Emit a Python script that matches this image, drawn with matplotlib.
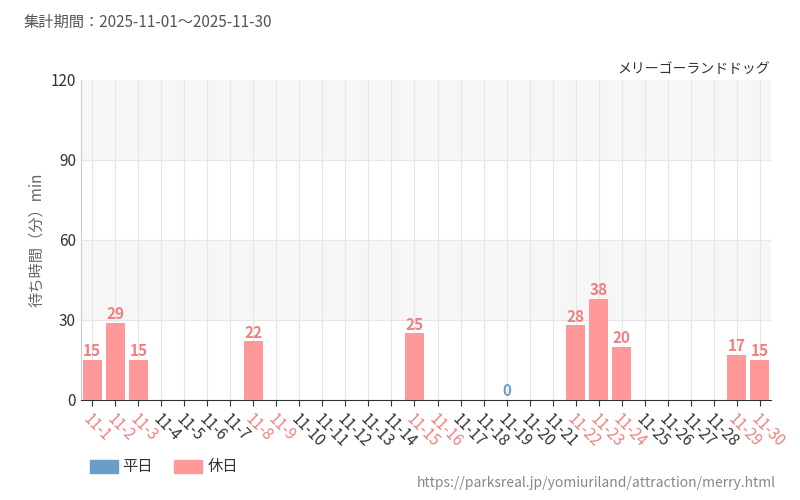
import numpy as np
import matplotlib.pyplot as plt

plt.rcParams['font.family'] = ['Noto Sans CJK JP', 'DejaVu Sans']

# === DATA ===
days = [f"11-{d}" for d in range(1, 31)]
holidays = [1, 2, 3, 8, 9, 15, 16, 22, 23, 24, 29, 30]
waits = {1: 15, 2: 29, 3: 15, 8: 22, 15: 25, 19: 0, 22: 28, 23: 38, 24: 20, 29: 17, 30: 15}

WEEKDAY = '#6a9ec6'
HOLIDAY = '#ff9999'
HOLIDAY_TXT = '#f07f7f'

fig = plt.figure(figsize=(8, 5), dpi=100)
ax = fig.add_axes([0.101, 0.2, 0.863, 0.64])

x = np.arange(len(days))
for d, v in waits.items():
    hol = d in holidays
    c = HOLIDAY if hol else WEEKDAY
    ax.bar(d - 1, v, width=0.82, color=c, zorder=3)
    ax.text(d - 1, v + 0.3, str(v), ha='center', va='bottom', fontsize=11,
            fontweight='bold', fontstretch='condensed',
            color=HOLIDAY_TXT if hol else WEEKDAY, zorder=4)

# background bands
ax.axhspan(90, 120, color='#f6f6f6', zorder=0)
ax.axhspan(30, 60, color='#f6f6f6', zorder=0)
for xi in x:
    ax.axvline(xi, color='#e6e6e6', lw=0.8, zorder=1)
for yv in [30, 60, 90]:
    ax.axhline(yv, color='#e6e6e6', lw=0.8, zorder=1)

ax.set_xlim(-0.5, len(days) - 0.5)
ax.set_ylim(0, 120)
ax.set_yticks([0, 30, 60, 90, 120])
ax.tick_params(axis='y', length=0, labelsize=11, colors='#333333')
ax.set_xticks(x)
ax.set_xticklabels(days, rotation=-45, ha='left', rotation_mode='anchor', fontsize=11)
for lbl, d in zip(ax.get_xticklabels(), range(1, 31)):
    lbl.set_color(HOLIDAY_TXT if d in holidays else '#333333')
ax.tick_params(axis='x', length=4, color='#333333')
for s in ['top', 'right']:
    ax.spines[s].set_visible(False)
ax.spines['left'].set_color('#cccccc')
ax.spines['bottom'].set_color('#333333')
ax.set_ylabel('待ち時間（分）min', fontsize=11, color='#666666')

fig.text(0.03, 0.955, '集計期間：2025-11-01～2025-11-30', fontsize=11, color='#555555', va='center')
fig.text(0.963, 0.862, 'メリーゴーランドドッグ', fontsize=10, color='#333333', ha='right', va='center')
fig.text(0.97, 0.035, 'https://parksreal.jp/yomiuriland/attraction/merry.html', fontsize=10,
         color='#888888', ha='right', va='center')

# legend
fig.patches.append(plt.Rectangle((0.112, 0.055), 0.035, 0.025, color=WEEKDAY, transform=fig.transFigure))
fig.text(0.153, 0.067, '平日', fontsize=11, color='#333333', va='center')
fig.patches.append(plt.Rectangle((0.218, 0.055), 0.035, 0.025, color=HOLIDAY, transform=fig.transFigure))
fig.text(0.259, 0.067, '休日', fontsize=11, color='#333333', va='center')

fig.savefig('out.png')
